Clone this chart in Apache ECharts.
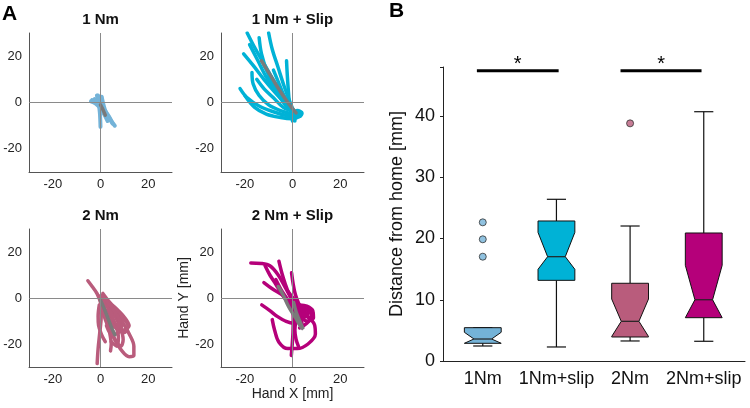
<!DOCTYPE html>
<html><head><meta charset="utf-8">
<script src="https://cdn.jsdelivr.net/npm/echarts@6/dist/echarts.min.js"></script>
<style>html,body{margin:0;padding:0;background:#fff}#c{width:750px;height:408px}</style>
</head><body><div id="c"></div>
<script>
// ---------- Panel A data (hand trajectories, mm) ----------
const panelTitles = ['1 Nm', '1 Nm + Slip', '2 Nm', '2 Nm + Slip'];
const shownTicksA = [-20, 0, 20];

const traj1Nm = [
  [[-3.5,1],[-1.5,0],[0.5,-2],[2.5,-5],[4.5,-8],[6,-10]],
  [[-1,3],[-0.5,1],[0.5,-1.5],[2,-4.5],[3.5,-7.5]],
  [[-1.5,3],[-0.8,0],[-0.3,-4],[-0.1,-7.5],[0,-10.5]],
  [[-4,0.5],[-2,-0.5],[0,-2.5],[1.5,-5],[3,-8]],
  [[0.5,2.5],[1,0],[1.8,-3],[3,-6]],
  [[-2.5,1.5],[-0.5,-0.5],[1.5,-3],[3.5,-6],[5,-9]]
];
const mean1Nm = [[0,-1],[1,-3],[2,-5.5]];

const traj1NmSlip = [
  [[-19,30],[-15.5,23],[-11,15],[-6.5,7],[-2.5,0],[0.5,-4],[2,-5]],
  [[-14,28],[-13,21],[-10.5,13],[-7,6],[-3,0],[0.5,-4.5],[2.5,-5.5]],
  [[-10,30],[-8.5,23],[-6,15],[-3.5,7],[-1,0],[1,-5]],
  [[-20.5,21],[-16.5,16],[-12,10],[-7,4],[-2.5,-1],[1,-4.5],[3,-5]],
  [[-18,25],[-14.5,18],[-11,11],[-7,5],[-3,-1],[1,-5]],
  [[-17,13],[-16.5,8],[-14,3],[-10,-1],[-5,-3.5],[0,-5],[3,-5.5]],
  [[-22,6],[-19,2],[-14,-1.5],[-8,-4],[-3,-5.5],[1,-6],[3.5,-5]],
  [[-2.5,18],[-2.2,12],[-1.8,6],[-1.3,0],[-0.5,-4],[0,-8]],
  [[-12,16],[-9,11],[-6,6],[-3,1],[0,-3],[2.5,-5]],
  [[-15,10],[-12,6],[-8,2],[-4,-2],[0,-4],[3,-6],[4,-4.5],[2,-3.5],[0,-5]],
  [[-8,14],[-6,9],[-4,4],[-1.5,-1],[1,-5],[1,-8]],
  [[-20,3],[-16,-2],[-11,-5],[-5,-6.5],[0,-7],[3,-6]]
];
const mean1NmSlip = [[-13,18],[-10,13],[-6.5,7],[-3,1.5],[-0.5,-2],[1.5,-4.5]];

const traj2Nm = [
  [[-5.3,7.5],[-3.5,5],[-1.5,2],[0,-2],[0.3,-8],[-0.3,-15],[-1,-22],[-1.4,-28.5]],
  [[0,1],[3,-3],[6.5,-7],[9.5,-11],[12,-15.5],[14,-21],[14,-25],[12,-25.5],[9,-23],[6,-18],[3.5,-12],[1.5,-5]],
  [[1,2],[4,-2],[7.5,-5.5],[10.5,-9],[12,-12],[9,-14],[6,-11],[3,-5]],
  [[0,0],[1.5,-4],[3,-10],[4,-16],[4.5,-20],[4.2,-23]],
  [[0.5,0],[4.5,-4],[8.5,-8],[11.5,-12],[10,-15],[6.5,-13],[3.5,-8]],
  [[0,-1],[1,-6],[3,-12],[6,-18],[8.5,-21],[9.5,-18],[8,-12],[5,-6]],
  [[-0.5,-3],[-1,-8],[-0.8,-12],[0.5,-16],[2,-19]],
  [[1.5,-1],[5.5,-4.5],[9,-8.5],[8.5,-14],[5,-16],[2.5,-12]],
  [[0,0.5],[3.5,-5],[6,-11],[7.5,-17],[7,-21],[4.5,-19]],
  [[0.5,1],[3,-2],[6,-6],[8,-10],[7,-13],[4,-10],[1,-3]]
];
const mean2Nm = [[0,-1],[1.5,-4.5],[3,-8.5],[4.5,-12.5],[6,-16]];

const traj2NmSlip = [
  [[-17.5,15.2],[-13,15],[-9.5,14],[-6,10],[-3,4.5],[0,-1],[3,-4.5],[6.5,-7]],
  [[-11.5,14],[-9.5,10],[-7,6],[-4,1],[-1,-3],[2,-6],[5,-8.5]],
  [[-5.7,16],[-4.5,11],[-3,6],[-1.5,2],[0.5,-2],[3,-6],[6,-8]],
  [[-0.4,11],[0.3,6],[1.2,1.5],[2.6,-2.4],[4.5,-6],[7,-8.5]],
  [[-12,6.7],[-8.5,4],[-4.5,1.5],[-1,-1.5],[3,-4],[6.5,-5.5],[8.5,-7]],
  [[-12.9,-3],[-9.5,-5.5],[-6.4,-8],[-3,-10],[0.5,-11],[3.5,-10]],
  [[-8.5,-9.4],[-7.5,-14],[-5.7,-19.2],[-2,-22],[2,-22],[6.5,-20],[9.6,-15.7],[9.2,-11.5],[6,-8],[2.5,-6.5]],
  [[0,-3],[0.3,-9],[0.2,-15],[-0.1,-20],[-0.5,-25]],
  [[2,-4],[1.5,-9],[1,-14],[1.5,-18],[2.5,-21]],
  [[3,-3],[6,-3.5],[8.5,-5.5],[8.8,-8.5],[6,-10],[3.5,-8.5]],
  [[-7,8],[-5,4],[-2.5,0],[0,-4],[2.5,-8],[4,-11]],
  [[-2,3],[1,-1],[4,-4],[7,-5.5],[8,-8],[6,-11],[3,-13]]
];
const mean2NmSlip = [[-6,5],[-4,1.5],[-1.5,-4],[1.5,-9],[3.5,-12.5],[4.5,-13.5],[3,-10],[1.5,-6],[0.5,-2]];

// ---------- Panel B data (distance from home, mm) ----------
const categories = ['1Nm', '1Nm+slip', '2Nm', '2Nm+slip'];
const whiskerLow  = [2.45, 2.29, 3.27, 3.22];
const q1          = [2.89, 13.17, 3.92, 7.07];
const median      = [3.59, 17.03, 6.48, 10.0];
const q3          = [5.44, 22.86, 12.69, 20.9];
const whiskerHigh = [5.44, 26.4, 22.04, 40.7];
const notchLow    = [2.89, 14.97, 4.0, 7.07];
const notchHigh   = [4.69, 21.0, 10.12, 15.62];
const outlierGroup = [1, 1, 1, 3];
const outlierValue = [22.64, 19.87, 17.03, 38.8];
const sigFrom = [0.92, 2.87];
const sigTo   = [2.03, 3.97];
const sigLevel = 47.4;

const colors = ['#74b3d8', '#00b2d6', '#b95c7c', '#b5007a'];
const meanColor = '#7a7a7a';
const FONT = '"Liberation Sans", Arial, Helvetica, sans-serif';

// ---------- build ----------
const gridsA = [
  {left: 29, top: 33, width: 143, height: 139},
  {left: 221, top: 33, width: 143, height: 139},
  {left: 29, top: 229, width: 143, height: 138},
  {left: 221, top: 229, width: 143, height: 138}
];
const trajSets = [traj1Nm, traj1NmSlip, traj2Nm, traj2NmSlip];
const meanSets = [mean1Nm, mean1NmSlip, mean2Nm, mean2NmSlip];
const trajWidth = [4, 3.5, 3.5, 3.5];

const grid = gridsA.concat([{left: 443, top: 67, width: 302, height: 294}]);
const xAxis = [], yAxis = [], series = [], title = [];

const labA = {fontSize: 13, color: '#222', fontFamily: FONT,
  formatter: v => shownTicksA.indexOf(v) >= 0 ? String(v) : ''};

for (let g = 0; g < 4; g++) {
  xAxis.push({gridIndex: g, type: 'value', min: -30, max: 30, interval: 10,
    axisLine: {onZero: false, lineStyle: {color: '#555', width: 1}},
    axisTick: {show: false}, splitLine: {show: false},
    axisLabel: Object.assign({margin: 6}, labA),
    name: g === 3 ? 'Hand X [mm]' : '', nameLocation: 'middle', nameGap: 18,
    nameTextStyle: {fontSize: 14, color: '#222', fontFamily: FONT}});
  yAxis.push({gridIndex: g, type: 'value', min: -30, max: 30, interval: 10,
    axisLine: {onZero: false, lineStyle: {color: '#555', width: 1}},
    axisTick: {show: false}, splitLine: {show: false},
    axisLabel: Object.assign({margin: 7}, labA),
    name: g === 3 ? 'Hand Y [mm]' : '', nameLocation: 'middle', nameGap: 29,
    nameTextStyle: {fontSize: 14, color: '#222', fontFamily: FONT}});
  title.push({text: panelTitles[g], left: gridsA[g].left + gridsA[g].width / 2,
    top: g < 2 ? 12 : 208, textAlign: 'center', padding: 0,
    textStyle: {fontSize: 15, fontWeight: 'bold', color: '#111', fontFamily: FONT}});
  // crosshair
  series.push({type: 'line', xAxisIndex: g, yAxisIndex: g, data: [], z: 1, silent: true,
    markLine: {silent: true, symbol: 'none', animation: false,
      label: {show: false}, lineStyle: {color: '#8a8a8a', width: 1, type: 'solid'},
      data: [{xAxis: 0}, {yAxis: 0}]}});
  trajSets[g].forEach(tr => series.push({type: 'line', xAxisIndex: g, yAxisIndex: g,
    data: tr, smooth: 0.35, showSymbol: false, symbol: 'none', z: 2, silent: true,
    lineStyle: {color: colors[g], width: trajWidth[g], cap: 'round', join: 'round'}}));
  series.push({type: 'line', xAxisIndex: g, yAxisIndex: g, data: meanSets[g],
    smooth: 0.35, showSymbol: false, symbol: 'none', z: 3, silent: true,
    lineStyle: {color: meanColor, width: 3.5, cap: 'round'}});
}

// Panel B axes
xAxis.push({gridIndex: 4, type: 'value', min: 0.46, max: 4.56,
  axisLine: {onZero: false, lineStyle: {color: '#222', width: 1}},
  axisTick: {show: false}, splitLine: {show: false},
  axisLabel: {customValues: [1, 2, 3, 4], formatter: v => categories[Math.round(v) - 1] || '',
    fontSize: 18, color: '#111', margin: 9, fontFamily: FONT}});
yAxis.push({gridIndex: 4, type: 'value', min: 0, max: 48, interval: 10,
  axisLine: {show: true, onZero: false, lineStyle: {color: '#222', width: 1}},
  axisTick: {show: true, length: 3, lineStyle: {color: '#222'}},
  splitLine: {show: false},
  axisLabel: {fontSize: 18, color: '#111', margin: 8, fontFamily: FONT,
    customValues: [0, 10, 20, 30, 40]},
  name: 'Distance from home [mm]', nameLocation: 'middle', nameGap: 37,
  nameTextStyle: {fontSize: 18, color: '#111', fontFamily: FONT}});

const boxData = categories.map((c, i) => [i + 1, whiskerLow[i], q1[i], median[i], q3[i], whiskerHigh[i], notchLow[i], notchHigh[i]]);

series.push({type: 'custom', xAxisIndex: 4, yAxisIndex: 4, data: boxData, z: 5,
  encode: {x: 0, y: [1, 5]},
  renderItem: (params, api) => {
    const i = params.dataIndex;
    const x = api.value(0);
    const w = 0.25, wn = 0.12, wc = 0.13;
    const P = (xx, yy) => api.coord([xx, yy]);
    const lo = api.value(1), a = api.value(2), m = api.value(3), b = api.value(4), hi = api.value(5), nl = api.value(6), nh = api.value(7);
    const pts = [P(x - w, a), P(x - w, nl), P(x - wn, m), P(x - w, nh), P(x - w, b),
                 P(x + w, b), P(x + w, nh), P(x + wn, m), P(x + w, nl), P(x + w, a)];
    const ln = (p1, p2, color) => ({type: 'line', shape: {x1: p1[0], y1: p1[1], x2: p2[0], y2: p2[1]},
      style: {stroke: color || '#111', lineWidth: 1.2}});
    return {type: 'group', children: [
      ln(P(x, b), P(x, hi)), ln(P(x - wc, hi), P(x + wc, hi)),
      ln(P(x, a), P(x, lo)), ln(P(x - wc, lo), P(x + wc, lo)),
      {type: 'polygon', shape: {points: pts}, style: {fill: colors[i], stroke: '#111', lineWidth: 1}},
      ln(P(x - wn, m), P(x + wn, m), '#222')
    ]};
  }});

series.push({type: 'scatter', xAxisIndex: 4, yAxisIndex: 4, z: 6, symbolSize: 7,
  data: outlierGroup.map((g, k) => ({value: [g, outlierValue[k]],
    itemStyle: {color: colors[g - 1], borderColor: '#333', borderWidth: 1}}))});

series.push({type: 'custom', xAxisIndex: 4, yAxisIndex: 4, z: 6, clip: false,
  data: sigFrom.map((f, k) => [f, sigTo[k], sigLevel]),
  encode: {x: [0, 1], y: 2},
  renderItem: (params, api) => {
    const p1 = api.coord([api.value(0), api.value(2)]);
    const p2 = api.coord([api.value(1), api.value(2)]);
    return {type: 'group', children: [
      {type: 'line', shape: {x1: p1[0], y1: p1[1], x2: p2[0], y2: p2[1]}, style: {stroke: '#000', lineWidth: 3}},
      {type: 'text', x: (p1[0] + p2[0]) / 2, y: p1[1] - 6,
        style: {text: '*', fontSize: 20, fontFamily: FONT, fill: '#000', align: 'center', verticalAlign: 'middle'}}
    ]};
  }});

const chart = echarts.init(document.getElementById('c'), null, {renderer: 'canvas'});
chart.setOption({
  animation: false,
  backgroundColor: '#fff',
  title: title,
  grid: grid, xAxis: xAxis, yAxis: yAxis, series: series,
  graphic: [
    {type: 'text', left: 2, top: 4, style: {text: 'A', fontSize: 21, fontWeight: 'bold', fill: '#000', fontFamily: FONT}},
    {type: 'text', left: 389, top: 1, style: {text: 'B', fontSize: 21, fontWeight: 'bold', fill: '#000', fontFamily: FONT}}
  ]
});
</script></body></html>
